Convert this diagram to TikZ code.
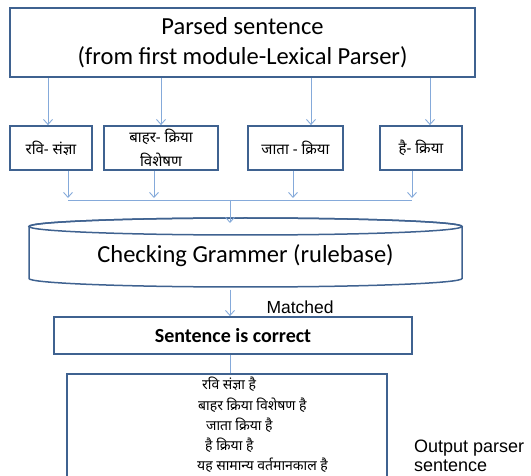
\documentclass[tikz,border=0pt]{standalone}
\usepackage{fontspec}
\setmainfont{Carlito}
\newfontfamily\arialf{Liberation Sans}
\newfontfamily\devf[Script=Devanagari]{Noto Sans}
\usetikzlibrary{arrows.meta}
\definecolor{boxline}{HTML}{3F6290}
\definecolor{arrline}{HTML}{85AADA}
\tikzset{
  box/.style={draw=boxline, line width=1.8pt, inner sep=0pt, align=center},
  wordbox/.style={box, minimum height=44pt, font=\devf\fontsize{15}{20}\selectfont},
  arr/.style={draw=arrline, line width=0.9pt, -{Straight Barb[length=5pt,width=9pt]}},
  plain/.style={draw=arrline, line width=0.9pt},
}
\begin{document}
\begin{tikzpicture}[x=1pt,y=-1pt]
\useasboundingbox (0,0) rectangle (531,476);
\clip (0,0) rectangle (531,476);
% top box
\node[box, minimum width=465pt, minimum height=69pt, font=\fontsize{24.5}{30}\selectfont] (top) at (242.5,42.5)
  {Parsed sentence\\(from first module-Lexical Parser)};
% word boxes
\node[wordbox, minimum width=82pt] (b1) at (51,148) {रवि- संज्ञा};
\node[wordbox, minimum width=114pt, font=\devf\fontsize{15}{24}\selectfont] (b2) at (161,148) {बाहर- क्रिया\\विशेषण};
\node[wordbox, minimum width=95pt] (b3) at (295.5,148) {जाता - क्रिया};
\node[wordbox, minimum width=82pt] (b4) at (421,148) {है- क्रिया};
% arrows top -> words
\draw[arr] (48,0 |- top.south) -- (48,0 |- b1.north);
\draw[arr] (161,0 |- top.south) -- (161,0 |- b2.north);
\draw[arr] (311,0 |- top.south) -- (311,0 |- b3.north);
\draw[arr] (430,0 |- top.south) -- (430,0 |- b4.north);
% collector
\coordinate (jl) at (68,200);
\coordinate (jr) at (412,200);
\coordinate (jm) at (230,200);
\draw[arr] (68,0 |- b1.south) -- (68,198);
\draw[arr] (154,0 |- b2.south) -- (154,198);
\draw[arr] (293,0 |- b3.south) -- (293,198);
\draw[arr] (412,0 |- b4.south) -- (412,198);
\draw[plain] (jl) -- (jr);
% cylinder
\node[minimum width=433pt, minimum height=69pt, inner sep=0pt] (chk) at (245.5,256) {};
\draw[draw=boxline, line width=1.5pt, fill=white]
  (29,226.5) -- (29,278.5) arc[start angle=180, end angle=360, x radius=216.5pt, y radius=8.5pt]
  -- (462,226.5) arc[start angle=0, end angle=180, x radius=216.5pt, y radius=8.5pt] -- cycle;
\draw[draw=boxline, line width=1.5pt] (245.5,226.5) ellipse[x radius=216.5pt, y radius=8.5pt];
\node[font=\fontsize{24.5}{30}\selectfont] (chktext) at (chk) {Checking Grammer (rulebase)};
\coordinate (cyltop) at (230,223);
\draw[arr] (jm) -- (cyltop);
% sentence correct
\node[box, minimum width=358pt, minimum height=37pt, font=\bfseries\fontsize{20}{24}\selectfont] (ok) at (233,335.5) {Sentence is correct};
\draw[arr] (230,0 |- chk.south) ++(0,-1) -- (230,0 |- ok.north);
\node[font=\arialf\fontsize{17.5}{20}\selectfont, anchor=base west] (m) at (263,313) {Matched};
% output box
\node[box, minimum width=320pt, minimum height=120pt, anchor=north] (out) at (227,373) {};
\draw[plain] (230,0 |- ok.south) -- (230,0 |- out.north);
\begin{scope}[every node/.style={font=\devf\fontsize{14}{16}\selectfont, anchor=west, inner sep=0pt}]
\node (l1) at (202,384) {रवि संज्ञा है};
\node (l2) at (198,405) {बाहर क्रिया विशेषण है};
\node (l3) at (206,425) {जाता क्रिया है};
\node (l4) at (205,445) {है क्रिया है};
\node (l5) at (197,465) {यह सामान्य वर्तमानकाल है};
\end{scope}
\node[font=\arialf\fontsize{18}{19}\selectfont, align=left, anchor=north west, inner sep=0pt] (lab) at (414,440) {Output parser\\sentence};
\end{tikzpicture}
\end{document}
